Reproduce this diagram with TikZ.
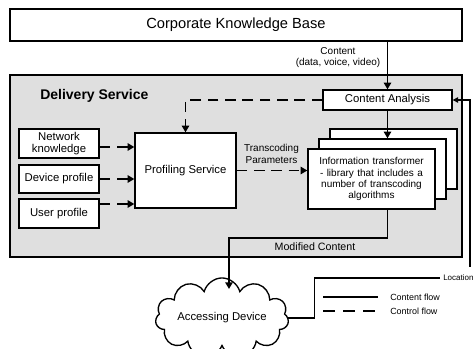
\documentclass[tikz,border=0pt]{standalone}
\usepackage{fontspec}
\setmainfont{Liberation Sans}
\usetikzlibrary{arrows.meta,shapes.symbols,calc}
\begin{document}
\begin{tikzpicture}[x=0.75pt,y=-0.75pt,
  plain/.style={draw, line width=1pt, fill=white, align=center, inner sep=1pt,
    font=\fontsize{8.5}{9.5}\selectfont},
  heavy/.style={draw, line width=1.6pt},
  flow/.style={line width=1.4pt, -{Triangle[length=5pt,width=5.5pt]}},
  ctrl/.style={flow, dash pattern=on 8pt off 5pt},
  thinline/.style={line width=0.8pt},
  lbl/.style={font=\fontsize{7.5}{8.5}\selectfont, align=center, inner sep=0pt},
  small/.style={font=\fontsize{6.7}{8}\selectfont, anchor=west, inner sep=0pt}]
\useasboundingbox (0,0) rectangle (476,349);

% outer frames
\node[heavy, minimum width=339pt, minimum height=24pt,
  font=\fontsize{11}{13}\selectfont] (ckb) at (236,25) {Corporate Knowledge Base};
\node[heavy, fill=gray!25, minimum width=339pt, minimum height=136.5pt] (ds) at (236,166) {};
\node[font=\bfseries\fontsize{10.5}{12}\selectfont, anchor=west, inner sep=0pt]
  (dsl) at (40,96) {Delivery Service};

% delivery service components
\node[plain, minimum width=96.75pt, minimum height=15pt] (ca) at (387.5,100) {Content Analysis};
\node[plain, minimum width=75.75pt, minimum height=56.25pt] (ps) at (185.5,170.5) {Profiling Service};
\node[plain, minimum width=60pt, minimum height=21.75pt] (nk) at (59,143.5) {Network\\knowledge};
\node[plain, minimum width=60pt, minimum height=21pt] (dp) at (59,179) {Device profile};
\node[plain, minimum width=60pt, minimum height=21.75pt] (up) at (59,213.5) {User profile};

% stacked transformer library
\node[plain, minimum width=95.25pt, minimum height=45pt] (it3) at (393.5,159) {};
\node[plain, minimum width=95.25pt, minimum height=45pt] (it2) at (382.5,169) {};
\node[plain, minimum width=95.25pt, minimum height=45pt, text width=90pt,
  font=\fontsize{7.5}{8.3}\selectfont] (it1) at (371.5,179)
  {Information transformer\\- library that includes a\\number of transcoding\\algorithms};

% client
\node[draw, cloud, cloud puffs=11, aspect=2.3, line width=1pt, fill=white,
  inner sep=0pt, minimum width=86pt, minimum height=36pt,
  font=\fontsize{8.5}{10}\selectfont]
  (ad) at (222,318) {Accessing Device};

% helper points
\coordinate (ynk) at (0,147);
\coordinate (ydp) at (0,179);
\coordinate (yup) at (0,204);
\coordinate (adin) at (229,289);
\coordinate (locend) at (440,278);
\coordinate (locv) at (470,267);

% content flow
\draw[flow] (ckb.south -| ca.north) -- (ca.north);
\node[lbl] (cl) at (338,57.5) {Content\\(data, voice, video)};
\draw[flow] (ca.south) -- (ca.south |- it2.north);
\draw[flow] (it1.south -| ca.south) -- ++(0,28) -| (adin);
\node[lbl, font=\fontsize{8}{9}\selectfont] (mc) at (315,247) {Modified Content};

% control flow
\draw[ctrl] (ca.west) -| (ps.north);
\draw[ctrl] (nk.east |- ynk) -- (ps.west |- ynk);
\draw[ctrl] (dp.east |- ydp) -- (ps.west |- ydp);
\draw[ctrl] (up.east |- yup) -- (ps.west |- yup);
\draw[ctrl] (ps.east) -- (ps.east -| it1.west);
\node[lbl] (tp) at (271.5,154) {Transcoding\\Parameters};

% location feedback
\draw[thinline] (ad.east) -- ++(26,0) |- (locend);
\node[small, font=\fontsize{6}{7}\selectfont] (loc) at (443,278) {Location};
\draw[thinline, -{Triangle[length=4pt,width=4pt]}] (locv) |- (ca.east);

% legend
\coordinate (s1) at (323,297);
\coordinate (s2) at (378,297);
\coordinate (d1) at (323,311);
\coordinate (d2) at (378,311);
\draw[thinline] (s1) -- (s2);
\draw[thinline, dash pattern=on 9pt off 6pt] (d1) -- (d2);
\node[small] (lg1) at (390,297) {Content flow};
\node[small] (lg2) at (390,311) {Control flow};
\end{tikzpicture}
\end{document}
